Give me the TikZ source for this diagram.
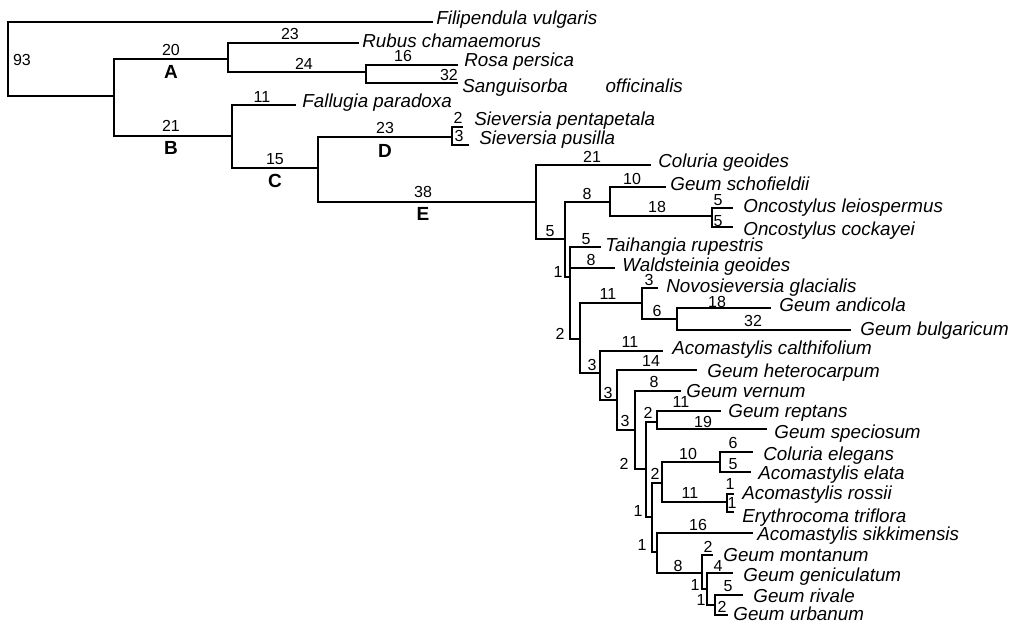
\documentclass[tikz,border=0pt]{standalone}
\usepackage{fontspec}
\setmainfont{Liberation Sans}
\usepackage{tikz}

\tikzset{
  branch/.style={line width=0.65pt, line cap=rect},
  taxon/.style={anchor=mid west, inner sep=0pt, font=\fontsize{9.4}{10}\selectfont\itshape},
  blen/.style={inner sep=0pt, font=\fontsize{8}{9}\selectfont},
  clade/.style={inner sep=0pt, font=\fontsize{9.5}{10}\selectfont\bfseries},
}

\begin{document}
\begin{tikzpicture}[x=0.5pt,y=-0.5pt]
\useasboundingbox (0,0) rectangle (1024,623);

\foreach \n/\x/\y in {r/8/59, filip/432/22, n1/114/96, nA/228/59, rubus/358/43,
  nRS/366/72, rosa/457/65, sang/457/83, nB/232/136, fall/295/105, nC/318/168,
  nD/452/137, spent/462/127, spus/468/145, nE/536/202, colg/650/165, nF/565/239,
  nG/610/202, scho/665/187, nOnc/712/216, oleio/732/208, ocock/732/227,
  nH/570/277, taih/600/247, wald/614/268, nI/580/339, nJ/642/303, novo/657/288,
  nK/677/319, andi/770/308, bulg/850/330, nL/600/373, calt/662/351, nM/617/400,
  hete/696/370, nN/635/430, vern/680/391, nO/646/469, nQ/657/422, rept/720/411,
  spec/766/429, nR/652/517, nS/662/483, nT/720/462, cole/752/452, elat/750/472,
  nU/727/502, ross/733/494, trif/733/512, nV/657/552, sikk/752/533, nW/702/573,
  mont/712/555, nX/707/589, geni/732/573, nY/715/605, riva/742/595, urba/727/615}
  \coordinate (\n) at (\x,\y);

\foreach \p/\c in {r/filip, r/n1, n1/nA, n1/nB, nA/rubus, nA/nRS, nRS/rosa, nRS/sang,
  nB/fall, nB/nC, nC/nD, nC/nE, nD/spent, nD/spus, nE/colg, nE/nF, nF/nG, nF/nH,
  nG/scho, nG/nOnc, nOnc/oleio, nOnc/ocock, nH/taih, nH/wald, nH/nI, nI/nJ, nI/nL,
  nJ/novo, nJ/nK, nK/andi, nK/bulg, nL/calt, nL/nM, nM/hete, nM/nN, nN/vern, nN/nO,
  nO/nQ, nO/nR, nQ/rept, nQ/spec, nR/nS, nR/nV, nS/nT, nS/nU, nT/cole, nT/elat,
  nU/ross, nU/trif, nV/sikk, nV/nW, nW/mont, nW/nX, nX/geni, nX/nY, nY/riva, nY/urba}
  \draw[branch] (\p) |- (\c);

\foreach \n/\x/\y/\t in {tfilip/436/19/Filipendula vulgaris, trubus/362/42/Rubus chamaemorus,
  trosa/464/61/Rosa persica, tsang/462/87/Sanguisorba\hspace{2em}officinalis,
  tfall/302/102/Fallugia paradoxa, tspent/474/120/Sieversia pentapetala,
  tspus/479/139/Sieversia pusilla, tcolg/658/162/Coluria geoides,
  tscho/670/185/Geum schofieldii, toleio/743/207/Oncostylus leiospermus,
  tocock/743/230/Oncostylus cockayei, ttaih/605/246/Taihangia rupestris,
  twald/622/266/Waldsteinia geoides, tnovo/666/287/Novosieversia glacialis,
  tandi/779/306/Geum andicola, tbulg/860/330/Geum bulgaricum,
  tcalt/672/349/Acomastylis calthifolium, thete/707/372/Geum heterocarpum,
  tvern/686/392/Geum vernum, trept/728/412/Geum reptans,
  tspec/774/433/Geum speciosum, tcole/763/455/Coluria elegans,
  telat/758/474/Acomastylis elata, tross/742/494/Acomastylis rossii,
  ttrif/742/517/Erythrocoma triflora, tsikk/757/535/Acomastylis sikkimensis,
  tmont/723/556/Geum montanum, tgeni/743/576/Geum geniculatum,
  triva/753/597/Geum rivale, turba/733/615/Geum urbanum}
  \node[taxon] (\n) at (\x,\y) {\t};

\foreach \x/\y/\t [count=\i] in {22/60/93, 171/50/20, 171/126/21, 290/34/23, 304/64/24,
  403/56/16, 449/75/32, 262/97/11, 275/159/15, 385/128/23, 423/192/38, 458/118/2,
  459/136/3, 592/157/21, 550/231/5, 587/194/8, 632/179/10, 657/207/18, 718/200/5,
  718/221/5, 558/272/1, 586/239/5, 591/260/8, 560/334/2, 608/294/11, 649/280/3,
  657/311/6, 717/302/18, 753/321/32, 592/365/3, 630/342/11, 608/393/3, 651/361/14,
  625/421/3, 654/382/8, 624/464/2, 648/413/2, 681/402/11, 703/422/19, 638/511/1,
  655/474/2, 688/454/10, 733/443/6, 733/464/5, 690/493/11, 730/484/1, 732/503/1,
  642/545/1, 698/525/16, 678/566/8, 708/547/2, 695/585/1, 718/566/4, 701/600/1,
  728/586/5, 722/607/2}
  \node[blen] (b\i) at (\x,\y) {\t};

\foreach \n/\x/\y in {A/171/72, B/171/148, C/275/181, D/385/151, E/423/214}
  \node[clade] (cl\n) at (\x,\y) {\n};

\end{tikzpicture}
\end{document}
